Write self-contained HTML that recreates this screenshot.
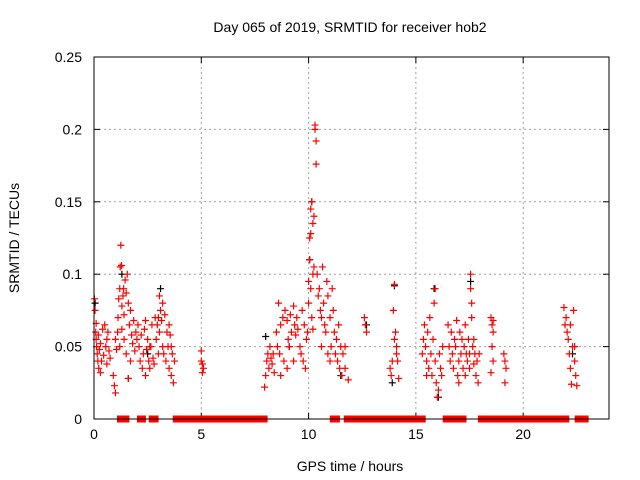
<!DOCTYPE html>
<html><head><meta charset="utf-8"><style>
body{margin:0;background:#fff}
svg{display:block;font-family:"Liberation Sans",sans-serif}
</style></head><body>
<svg id="chart" width="640" height="480" xmlns="http://www.w3.org/2000/svg">
<rect width="640" height="480" fill="#fff"/>
<text x="350" y="32" text-anchor="middle" font-size="14">Day 065 of 2019, SRMTID for receiver hob2</text>
<text transform="translate(19,238) rotate(-90)" text-anchor="middle" font-size="14">SRMTID / TECUs</text>
<text x="350" y="471" text-anchor="middle" font-size="14">GPS time / hours</text>
<g id="grid"></g>
<g id="ticks"></g>
<g id="marks"></g>
<rect x="94" y="57" width="515" height="362" fill="none" stroke="#000" stroke-width="1"/>
</svg>
<script>
const xTicks=[0,5,10,15,20];
const yTicks=[0,0.05,0.1,0.15,0.2,0.25];
const yTickLabels=["0","0.05","0.1","0.15","0.2","0.25"];
const zeroSegments=[[1.21,1.51],[2.14,2.28],[2.69,2.87],[3.81,5.81],[5.87,6.09],[6.23,7.95],[11.13,11.32],[11.78,12.11],[12.16,13.84],[13.92,13.97],[14.11,15.32],[16.39,16.67],[16.91,16.99],[17.05,17.22],[18.03,18.53],[18.62,19.1],[19.15,22.01],[22.54,22.91]];
const redPoints=[[0.02,0.083],[0.05,0.075],[0.08,0.06],[0.1,0.055],[0.12,0.05],[0.15,0.045],[0.18,0.04],[0.2,0.058],[0.22,0.035],[0.25,0.048],[0.3,0.052],[0.35,0.04],[0.4,0.062],[0.45,0.044],[0.5,0.065],[0.55,0.05],[0.6,0.038],[0.65,0.06],[0.7,0.047],[0.75,0.042],[0.3,0.032],[0.1,0.066],[0.6,0.055],
[0.9,0.03],[0.95,0.023],[1.0,0.018],[1.0,0.055],[1.05,0.048],[1.1,0.06],[1.12,0.07],[1.15,0.083],[1.2,0.09],[1.22,0.105],[1.25,0.12],[1.28,0.106],[1.3,0.078],[1.35,0.085],[1.38,0.09],[1.4,0.072],[1.45,0.096],[1.5,0.087],[1.55,0.1],[1.6,0.08],[1.65,0.065],[1.7,0.075],[1.75,0.058],[1.8,0.052],[1.85,0.068],[1.9,0.047],[1.95,0.06],[1.4,0.055],[1.5,0.045],[1.6,0.028],[1.2,0.05],[1.3,0.062],[1.7,0.04],[2.0,0.055],
[2.05,0.065],[2.1,0.05],[2.15,0.04],[2.2,0.058],[2.25,0.035],[2.3,0.045],[2.35,0.062],[2.4,0.03],[2.45,0.048],[2.5,0.055],[2.55,0.04],[2.6,0.035],[2.65,0.05],[2.7,0.065],[2.75,0.042],[2.8,0.038],[2.85,0.07],[2.4,0.068],[2.6,0.05],
[2.9,0.055],[2.95,0.065],[3.0,0.07],[3.05,0.085],[3.05,0.06],[3.1,0.075],[3.15,0.068],[3.2,0.08],[3.25,0.045],[3.3,0.072],[3.35,0.04],[3.4,0.06],[3.45,0.05],[3.5,0.035],[3.55,0.058],[3.6,0.03],[3.65,0.045],[3.7,0.025],[3.75,0.04],[3.2,0.05],[3.0,0.045],[3.5,0.065],[3.6,0.05],
[5.0,0.047],[5.05,0.038],[5.1,0.035],[5.05,0.032],[5.0,0.04],
[7.95,0.022],[8.0,0.03],[8.05,0.04],[8.1,0.045],[8.15,0.035],[8.2,0.05],[8.25,0.042],[8.3,0.038],[8.35,0.045],[8.4,0.032],[8.5,0.06],[8.55,0.05],[8.6,0.08],[8.65,0.045],[8.7,0.065],[8.8,0.07],[8.85,0.04],[8.9,0.075],[9.0,0.068],[9.05,0.055],[9.1,0.05],[9.15,0.072],[9.2,0.06],[9.3,0.078],[9.35,0.065],[9.4,0.058],[9.45,0.07],[9.5,0.062],[9.6,0.05],[9.65,0.045],[9.7,0.075],[9.75,0.04],[9.8,0.065],[9.85,0.035],[9.9,0.055],[9.95,0.06],[9.3,0.04],[9.0,0.035],[8.7,0.03],
[10.0,0.08],[10.0,0.095],[10.05,0.11],[10.05,0.125],[10.1,0.128],[10.1,0.145],[10.15,0.15],[10.2,0.135],[10.25,0.14],[10.3,0.2],[10.35,0.192],[10.35,0.176],[10.3,0.203],[10.2,0.1],[10.25,0.105],[10.1,0.09],[10.15,0.07],[10.2,0.062],
[10.4,0.1],[10.45,0.085],[10.5,0.09],[10.55,0.075],[10.6,0.07],[10.65,0.105],[10.7,0.08],[10.75,0.065],[10.8,0.06],[10.85,0.095],[10.9,0.085],[11.0,0.07],[11.05,0.05],[11.1,0.09],[11.15,0.075],[11.2,0.06],[11.25,0.045],[11.3,0.055],[11.35,0.04],[11.4,0.065],[11.45,0.035],[11.5,0.05],[11.55,0.03],[11.0,0.04],[10.6,0.05],[10.9,0.045],[11.7,0.035],[11.85,0.027],[11.6,0.045],[11.7,0.05],
[12.6,0.07],[12.65,0.065],[12.7,0.06],
[13.8,0.035],[13.85,0.03],[13.9,0.04],[13.95,0.075],[14.0,0.093],[14.05,0.06],[14.1,0.05],[14.15,0.04],[14.2,0.028],[14.1,0.045],[14.0,0.055],
[15.3,0.045],[15.35,0.055],[15.4,0.065],[15.45,0.05],[15.5,0.04],[15.55,0.06],[15.6,0.035],[15.65,0.07],[15.7,0.045],[15.75,0.03],[15.8,0.055],[15.85,0.08],[15.9,0.04],[15.95,0.025],[16.0,0.015],[16.05,0.02],[16.1,0.045],[16.15,0.035],[16.2,0.03],[15.9,0.09],[16.25,0.05],[15.5,0.03],
[16.5,0.065],[16.55,0.05],[16.6,0.04],[16.65,0.06],[16.7,0.045],[16.75,0.035],[16.8,0.055],[16.85,0.05],[16.9,0.068],[16.95,0.03],[17.0,0.04],[17.05,0.06],[17.1,0.045],[17.15,0.055],[17.2,0.035],[17.25,0.05],[17.3,0.03],[17.35,0.045],[17.4,0.04],[17.45,0.055],[17.5,0.045],[17.55,0.1],[17.55,0.09],[17.6,0.08],[17.6,0.07],[17.65,0.05],[17.7,0.038],[17.75,0.045],[17.8,0.03],[17.85,0.04],[17.9,0.025],[17.95,0.045],[17.5,0.035],[17.7,0.055],[17.3,0.065],[17.0,0.025],
[18.5,0.07],[18.55,0.065],[18.6,0.06],[18.55,0.05],[18.6,0.04],[18.5,0.032],[18.6,0.068],
[19.1,0.045],[19.15,0.04],[19.2,0.035],[19.15,0.025],
[21.9,0.077],[21.95,0.065],[22.0,0.07],[22.05,0.06],[22.1,0.055],[22.15,0.045],[22.2,0.035],[22.25,0.024],[22.3,0.05],[22.35,0.075],[22.4,0.04],[22.45,0.03],[22.5,0.023],[22.4,0.05],[22.2,0.065]];
const blackPoints=[[0.05,0.08],[1.3,0.1],[1.6,0.028],[3.1,0.09],[8.0,0.057],[9.1,0.05],[10.15,0.15],[10.05,0.11],[11.5,0.03],[13.9,0.025],[14.0,0.092],[15.85,0.09],[16.05,0.015],[17.55,0.095],[22.3,0.045],[2.5,0.045],[12.7,0.065]];

const X0=94,X1=609,Y0=419,Y1=57;
const xs=h=>X0+h/24*(X1-X0);
const ys=v=>Y0-v/0.25*(Y0-Y1);
const NS="http://www.w3.org/2000/svg";
function mk(tag,attrs,parent){const e=document.createElementNS(NS,tag);for(const k in attrs)e.setAttribute(k,attrs[k]);parent.appendChild(e);return e;}
const grid=document.getElementById('grid'),ticks=document.getElementById('ticks'),marks=document.getElementById('marks');
xTicks.forEach(t=>{const x=xs(t);
 if(t>0){const g=mk('line',{x1:x,x2:x,y1:Y1,y2:Y0,stroke:'#a0a0a0','stroke-dasharray':'2,3'},grid);
 
 }
 mk('line',{x1:x,x2:x,y1:Y0,y2:Y0-6,stroke:'#000'},ticks);
 mk('line',{x1:x,x2:x,y1:Y1,y2:Y1+6,stroke:'#000'},ticks);
 const l=mk('text',{x:x,y:Y0+20,'text-anchor':'middle','font-size':'14'},ticks);l.textContent=t;
 
 });
yTicks.forEach((t,i)=>{const y=ys(t);
 if(t>0&&t<0.25){const g=mk('line',{x1:X0,x2:X1,y1:y,y2:y,stroke:'#a0a0a0','stroke-dasharray':'2,3'},grid);
 
 }
 mk('line',{x1:X0,x2:X0+6,y1:y,y2:y,stroke:'#000'},ticks);
 mk('line',{x1:X1,x2:X1-6,y1:y,y2:y,stroke:'#000'},ticks);
 const l=mk('text',{x:X0-12,y:y+5,'text-anchor':'end','font-size':'14'},ticks);l.textContent=yTickLabels[i];
 
 });
function plus(p,color,name){const x=xs(p[0]),y=ys(p[1]);
 const e=mk('path',{d:`M${x-3.5},${y}H${x+3.5}M${x},${y-3.5}V${y+3.5}`,stroke:color,'stroke-width':'1.2',fill:'none'},marks);
 
 }
blackPoints.forEach(p=>plus(p,'#000','black-point'));
redPoints.forEach(p=>plus(p,'#f00','red-point'));
zeroSegments.forEach(s=>{const e=mk('rect',{x:xs(s[0])-3,y:ys(0)-3.5,width:xs(s[1])-xs(s[0])+6,height:7,fill:'#f00'},marks);
 
 });
</script>
</body></html>
